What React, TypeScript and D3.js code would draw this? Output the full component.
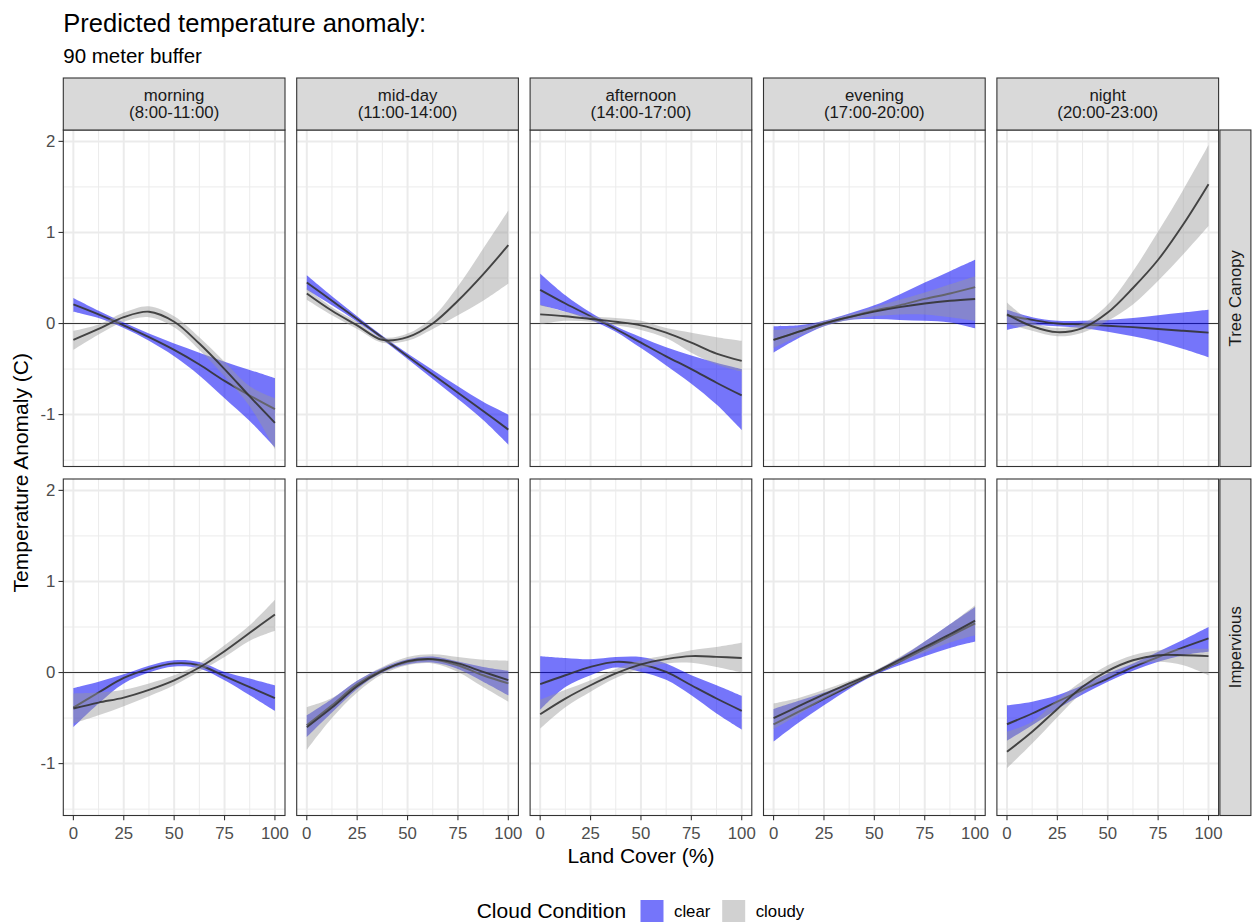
import { useEffect, useRef } from "react";
import * as d3 from "d3";

// values (rows = periods, cols = landCover)
const landCover = [0, 12.5, 25, 37.5, 50, 62.5, 75, 87.5, 100];
const periods = ["morning", "mid-day", "afternoon", "evening", "night"];
const periodHours = ["(8:00-11:00)", "(11:00-14:00)", "(14:00-17:00)", "(17:00-20:00)", "(20:00-23:00)"];
const coverTypes = ["Tree Canopy", "Impervious"];
const conditions = ["clear", "cloudy"];
const xTicks = [0, 25, 50, 75, 100];
const xMinor = [12.5, 37.5, 62.5, 87.5];
const yTicks = [-1, 0, 1, 2];
const yMinor = [-1.5, -0.5, 0.5, 1.5];

const treeClearFit = [
  [0.21, 0.10, -0.02, -0.15, -0.29, -0.45, -0.63, -0.79, -0.94],
  [0.45, 0.25, 0.05, -0.155, -0.36, -0.56, -0.76, -0.96, -1.165],
  [0.37, 0.22, 0.08, -0.06, -0.21, -0.36, -0.5, -0.65, -0.79],
  [-0.18, -0.09, 0.0, 0.07, 0.14, 0.2, 0.27, 0.33, 0.4],
  [0.09, 0.04, 0.0, -0.01, -0.025, -0.04, -0.06, -0.08, -0.1],
];
const treeClearLo = [
  [0.13, 0.06, -0.05, -0.19, -0.36, -0.57, -0.82, -1.07, -1.36],
  [0.37, 0.2, 0.02, -0.175, -0.39, -0.61, -0.83, -1.06, -1.33],
  [0.2, 0.13, 0.04, -0.09, -0.27, -0.46, -0.66, -0.89, -1.17],
  [-0.32, -0.16, -0.03, 0.04, 0.05, 0.04, 0.03, 0.01, -0.055],
  [-0.07, -0.02, -0.03, -0.05, -0.09, -0.14, -0.2, -0.28, -0.37],
];
const treeClearHi = [
  [0.28, 0.14, 0.01, -0.11, -0.22, -0.32, -0.42, -0.51, -0.6],
  [0.53, 0.3, 0.08, -0.135, -0.33, -0.51, -0.69, -0.86, -1.0],
  [0.55, 0.31, 0.12, -0.03, -0.15, -0.26, -0.35, -0.43, -0.5],
  [-0.03, -0.02, 0.03, 0.11, 0.2, 0.32, 0.45, 0.575, 0.7],
  [0.15, 0.07, 0.03, 0.03, 0.04, 0.06, 0.09, 0.12, 0.15],
];
const treeCloudyFit = [
  [-0.18, -0.06, 0.07, 0.13, 0.02, -0.22, -0.5, -0.8, -1.09],
  [0.33, 0.14, -0.02, -0.18, -0.15, 0.0, 0.25, 0.54, 0.86],
  [0.1, 0.08, 0.05, 0.02, -0.02, -0.1, -0.21, -0.33, -0.41],
  [-0.18, -0.09, 0.0, 0.07, 0.13, 0.18, 0.22, 0.25, 0.27],
  [0.1, -0.03, -0.095, -0.05, 0.12, 0.39, 0.7, 1.09, 1.53],
];
const treeCloudyLo = [
  [-0.29, -0.12, 0.02, 0.07, -0.04, -0.29, -0.58, -0.91, -1.38],
  [0.26, 0.09, -0.06, -0.21, -0.19, -0.06, 0.09, 0.25, 0.44],
  [-0.01, 0.03, 0.02, -0.02, -0.07, -0.16, -0.32, -0.45, -0.53],
  [-0.27, -0.14, -0.03, 0.04, 0.08, 0.1, 0.1, 0.07, 0.03],
  [0.0, -0.08, -0.14, -0.1, 0.03, 0.21, 0.47, 0.76, 1.07],
];
const treeCloudyHi = [
  [-0.08, -0.01, 0.12, 0.19, 0.08, -0.15, -0.42, -0.69, -0.82],
  [0.39, 0.18, 0.02, -0.15, -0.11, 0.07, 0.41, 0.82, 1.24],
  [0.21, 0.13, 0.08, 0.06, 0.03, -0.05, -0.1, -0.15, -0.19],
  [-0.07, -0.04, 0.03, 0.1, 0.18, 0.26, 0.34, 0.43, 0.52],
  [0.23, 0.02, -0.05, 0.0, 0.21, 0.575, 1.01, 1.47, 1.96],
];

const impClearFit = [
  [-0.385, -0.22, -0.06, 0.04, 0.1, 0.08, -0.04, -0.16, -0.28],
  [-0.58, -0.36, -0.13, 0.026, 0.117, 0.143, 0.08, -0.03, -0.12],
  [-0.128, -0.03, 0.062, 0.117, 0.09, 0.007, -0.14, -0.285, -0.42],
  [-0.57, -0.43, -0.29, -0.15, -0.01, 0.12, 0.26, 0.4, 0.54],
  [-0.568, -0.45, -0.32, -0.19, -0.066, 0.06, 0.17, 0.275, 0.374],
];
const impClearLo = [
  [-0.6, -0.34, -0.12, 0.0, 0.065, 0.045, -0.085, -0.25, -0.42],
  [-0.71, -0.44, -0.18, 0.0, 0.09, 0.11, 0.04, -0.1, -0.25],
  [-0.41, -0.16, -0.03, 0.055, 0.007, -0.08, -0.25, -0.45, -0.626],
  [-0.76, -0.55, -0.36, -0.18, -0.03, 0.08, 0.18, 0.27, 0.34],
  [-0.75, -0.58, -0.4, -0.24, -0.1, 0.02, 0.117, 0.19, 0.227],
];
const impClearHi = [
  [-0.17, -0.1, -0.02, 0.075, 0.135, 0.115, 0.007, -0.066, -0.14],
  [-0.47, -0.29, -0.09, 0.05, 0.145, 0.175, 0.12, 0.06, 0.018],
  [0.18, 0.16, 0.146, 0.17, 0.17, 0.1, -0.03, -0.14, -0.256],
  [-0.4, -0.31, -0.22, -0.12, 0.01, 0.16, 0.34, 0.53, 0.72],
  [-0.36, -0.32, -0.25, -0.14, -0.01, 0.1, 0.227, 0.36, 0.5],
];
const impCloudyFit = [
  [-0.395, -0.33, -0.275, -0.19, -0.085, 0.055, 0.234, 0.436, 0.637],
  [-0.6, -0.385, -0.15, 0.018, 0.125, 0.147, 0.1, 0.007, -0.084],
  [-0.458, -0.286, -0.14, -0.01, 0.09, 0.147, 0.18, 0.172, 0.16],
  [-0.5, -0.37, -0.24, -0.12, 0.0, 0.14, 0.28, 0.42, 0.57],
  [-0.87, -0.65, -0.4, -0.157, 0.018, 0.135, 0.19, 0.19, 0.18],
];
const impCloudyLo = [
  [-0.56, -0.47, -0.37, -0.26, -0.14, 0.01, 0.17, 0.35, 0.46],
  [-0.85, -0.5, -0.22, -0.02, 0.08, 0.1, 0.007, -0.16, -0.32],
  [-0.615, -0.38, -0.21, -0.06, 0.044, 0.1, 0.106, 0.06, 0.0],
  [-0.62, -0.46, -0.29, -0.15, -0.02, 0.11, 0.22, 0.33, 0.41],
  [-1.05, -0.78, -0.49, -0.22, -0.05, 0.08, 0.117, 0.08, -0.03],
];
const impCloudyHi = [
  [-0.23, -0.22, -0.19, -0.12, -0.03, 0.1, 0.3, 0.52, 0.8],
  [-0.38, -0.28, -0.09, 0.06, 0.17, 0.2, 0.17, 0.14, 0.13],
  [-0.3, -0.19, -0.084, 0.04, 0.135, 0.19, 0.245, 0.28, 0.326],
  [-0.34, -0.28, -0.19, -0.09, 0.02, 0.17, 0.34, 0.53, 0.74],
  [-0.65, -0.54, -0.3, -0.09, 0.08, 0.19, 0.245, 0.26, 0.26],
];

const series: Record<string, Record<string, number[][][]>> = {
  "Tree Canopy": {
    clear: [treeClearFit, treeClearLo, treeClearHi],
    cloudy: [treeCloudyFit, treeCloudyLo, treeCloudyHi],
  },
  Impervious: {
    clear: [impClearFit, impClearLo, impClearHi],
    cloudy: [impCloudyFit, impCloudyLo, impCloudyHi],
  },
};

const W = 1260, H = 922;
const LEFT = 63.3, TOP = 130;
const PW = 221.7, PH = 336.5, GX = 11.7, GY = 12.5;
const STRIP = 52, RSTRIP = 31;
const FONT = "'Liberation Sans', Arial, Helvetica, sans-serif";
const FILL: Record<string, string> = { clear: "#0000f5", cloudy: "#999999" };
const ALPHA: Record<string, number> = { clear: 0.54, cloudy: 0.45 };

export default function App() {
  const ref = useRef<SVGSVGElement>(null);

  useEffect(() => {
    const el = ref.current;
    if (!el) return;
    d3.select(el).selectAll("*").remove();
    const svg = d3.select(el).attr("font-family", FONT);

    const x = d3.scaleLinear().domain([-5, 105]).range([0, PW]);
    const y = d3.scaleLinear().domain([-1.57, 2.125]).range([PH, 0]);
    const curve = d3.curveCatmullRom.alpha(0.5);

    svg.append("rect").attr("width", W).attr("height", H).attr("fill", "#fff");

    // Titles
    svg.append("text").attr("x", LEFT).attr("y", 32).attr("font-size", 25.5)
      .attr("fill", "#000").text("Predicted temperature anomaly:");
    svg.append("text").attr("x", LEFT).attr("y", 63).attr("font-size", 20.5)
      .attr("fill", "#000").text("90 meter buffer");

    coverTypes.forEach((cover, r) => {
      const py = TOP + r * (PH + GY);
      periods.forEach((period, c) => {
        const px = LEFT + c * (PW + GX);
        const g = svg.append("g").attr("transform", `translate(${px},${py})`);
        g.append("rect").attr("width", PW).attr("height", PH).attr("fill", "#fff");

        // Grid lines
        xMinor.forEach(v => g.append("line").attr("x1", x(v)).attr("x2", x(v)).attr("y1", 0).attr("y2", PH)
          .attr("stroke", "#EBEBEB").attr("stroke-width", 1));
        yMinor.forEach(v => g.append("line").attr("x1", 0).attr("x2", PW).attr("y1", y(v)).attr("y2", y(v))
          .attr("stroke", "#EBEBEB").attr("stroke-width", 1));
        xTicks.forEach(v => g.append("line").attr("x1", x(v)).attr("x2", x(v)).attr("y1", 0).attr("y2", PH)
          .attr("stroke", "#EBEBEB").attr("stroke-width", 2));
        yTicks.forEach(v => g.append("line").attr("x1", 0).attr("x2", PW).attr("y1", y(v)).attr("y2", y(v))
          .attr("stroke", "#EBEBEB").attr("stroke-width", 2));

        // Zero line
        g.append("line").attr("x1", 0).attr("x2", PW).attr("y1", y(0)).attr("y2", y(0))
          .attr("stroke", "#333").attr("stroke-width", 1);

        // Ribbons + fitted lines, in group order like geom_smooth
        conditions.forEach(cond => {
          const [fit, lo, hi] = series[cover][cond];
          const rows = landCover.map((lc, i) => ({ lc, fit: fit[c][i], lo: lo[c][i], hi: hi[c][i] }));
          const area = d3.area<any>().x(d => x(d.lc)).y0(d => y(d.lo)).y1(d => y(d.hi)).curve(curve);
          const line = d3.line<any>().x(d => x(d.lc)).y(d => y(d.fit)).curve(curve);
          g.append("path").datum(rows).attr("d", area)
            .attr("fill", FILL[cond]).attr("fill-opacity", ALPHA[cond]);
          g.append("path").datum(rows).attr("d", line)
            .attr("fill", "none").attr("stroke", "#333").attr("stroke-opacity", 0.9).attr("stroke-width", 1.9);
        });

        // Panel border
        g.append("rect").attr("width", PW).attr("height", PH)
          .attr("fill", "none").attr("stroke", "#333").attr("stroke-width", 1.1);

        // Top strips
        if (r === 0) {
          const s = g.append("g").attr("transform", `translate(0,${-STRIP})`);
          s.append("rect").attr("width", PW).attr("height", STRIP)
            .attr("fill", "#D9D9D9").attr("stroke", "#333").attr("stroke-width", 1.1);
          s.append("text").attr("x", PW / 2).attr("y", 23).attr("text-anchor", "middle")
            .attr("font-size", 16.8).attr("fill", "#1A1A1A").text(period);
          s.append("text").attr("x", PW / 2).attr("y", 40).attr("text-anchor", "middle")
            .attr("font-size", 16.8).attr("fill", "#1A1A1A").text(periodHours[c]);
        }

        // Right strips
        if (c === periods.length - 1) {
          const s = g.append("g").attr("transform", `translate(${PW + 1.3},0)`);
          s.append("rect").attr("width", RSTRIP).attr("height", PH)
            .attr("fill", "#D9D9D9").attr("stroke", "#333").attr("stroke-width", 1.1);
          s.append("text").attr("transform", `translate(${RSTRIP / 2},${PH / 2}) rotate(-90)`)
            .attr("text-anchor", "middle").attr("dy", "0.35em")
            .attr("font-size", 16.8).attr("fill", "#1A1A1A").text(cover);
        }

        // x axis on bottom row
        if (r === coverTypes.length - 1) {
          xTicks.forEach(v => {
            g.append("line").attr("x1", x(v)).attr("x2", x(v)).attr("y1", PH).attr("y2", PH + 4.8)
              .attr("stroke", "#333").attr("stroke-width", 1.1);
            g.append("text").attr("x", x(v)).attr("y", PH + 23).attr("text-anchor", "middle")
              .attr("font-size", 16.8).attr("fill", "#4D4D4D").text(String(v));
          });
        }

        // y axis on first column (plain hyphen minus, like R)
        if (c === 0) {
          yTicks.forEach(v => {
            g.append("line").attr("x1", -4.8).attr("x2", 0).attr("y1", y(v)).attr("y2", y(v))
              .attr("stroke", "#333").attr("stroke-width", 1.1);
            g.append("text").attr("x", -8).attr("y", y(v)).attr("dy", "0.35em").attr("text-anchor", "end")
              .attr("font-size", 16.8).attr("fill", "#4D4D4D").text(String(v));
          });
        }
      });
    });

    // Axis titles
    const panelsRight = LEFT + periods.length * PW + (periods.length - 1) * GX;
    const panelsBottom = TOP + 2 * PH + GY;
    svg.append("text").attr("x", (LEFT + panelsRight) / 2).attr("y", panelsBottom + 47)
      .attr("text-anchor", "middle").attr("font-size", 21).attr("fill", "#000").text("Land Cover (%)");
    svg.append("text").attr("transform", `translate(28,${(TOP + panelsBottom) / 2}) rotate(-90)`)
      .attr("text-anchor", "middle").attr("font-size", 21).attr("fill", "#000").text("Temperature Anomaly (C)");

    // Legend
    const lg = svg.append("g").attr("transform", "translate(476.7,900)");
    lg.append("text").attr("x", 0).attr("y", 17.5).attr("font-size", 21).attr("fill", "#000").text("Cloud Condition");
    const keyX = [163.8, 245.5];
    conditions.forEach((cond, i) => {
      lg.append("rect").attr("x", keyX[i]).attr("y", 0).attr("width", 23).attr("height", 23)
        .attr("fill", FILL[cond]).attr("fill-opacity", ALPHA[cond]);
      lg.append("text").attr("x", keyX[i] + 33.5).attr("y", 17).attr("font-size", 16.8)
        .attr("fill", "#000").text(cond);
    });
  }, []);

  return (
    <svg ref={ref} width={W} height={H}
      style={{ position: "absolute", left: 0, top: 0, display: "block" }} />
  );
}
